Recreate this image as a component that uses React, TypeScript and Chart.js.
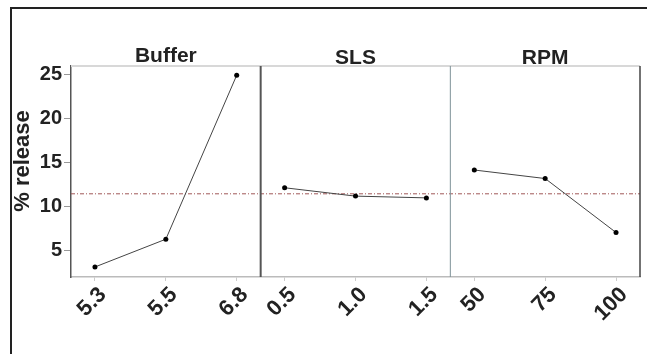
import React, { useEffect, useRef } from "react";
import { Chart, registerables } from "chart.js";

Chart.register(...registerables);

const panelTitles = ["Buffer", "SLS", "RPM"];
const bufferLabels = ["5.3", "5.5", "6.8"];
const slsLabels = ["0.5", "1.0", "1.5"];
const rpmLabels = ["50", "75", "100"];
const bufferValues = [3.14, 6.3, 24.95];
const slsValues = [12.15, 11.2, 11.0];
const rpmValues = [14.17, 13.2, 7.06];
const yTicks = [5, 10, 15, 20, 25];
const yTitle = "% release";

const allValues = [...bufferValues, ...slsValues, ...rpmValues];
const grandMean = allValues.reduce((a, b) => a + b, 0) / allValues.length;

const M = 0.338; // margin inside each panel, in point spacings
const W = 2 + 2 * M; // panel width
const panels = [bufferValues, slsValues, rpmValues];
const labelsAll = [...bufferLabels, ...slsLabels, ...rpmLabels];
const xPositions: number[] = [];
panels.forEach((_, p) => [0, 1, 2].forEach((k) => xPositions.push(p * W + M + k)));

const FONT = "'Liberation Sans', Arial, sans-serif";

export default function App() {
  const ref = useRef<HTMLCanvasElement | null>(null);
  useEffect(() => {
    if (!ref.current) return;
    const datasets: any[] = panels.map((vals, p) => ({
      data: vals.map((v, k) => ({ x: p * W + M + k, y: v })),
      borderColor: "#444",
      borderWidth: 1,
      pointRadius: 2.5,
      pointBackgroundColor: "#000",
      pointBorderColor: "#000",
      pointBorderWidth: 0,
      showLine: true,
    }));
    datasets.push({
      data: [
        { x: 0, y: grandMean },
        { x: 3 * W, y: grandMean },
      ],
      borderColor: "#a05858",
      borderWidth: 1,
      borderDash: [4, 2, 1, 2],
      pointRadius: 0,
      showLine: true,
    });

    const framePlugin = {
      id: "frame",
      afterDraw(chart: any) {
        const ctx = chart.ctx;
        const { top, bottom } = chart.chartArea;
        const xs = chart.scales.x;
        ctx.save();
        ctx.strokeStyle = "#d8d8d8";
        ctx.lineWidth = 2;
        ctx.beginPath();
        ctx.moveTo(chart.chartArea.left, top);
        ctx.lineTo(chart.chartArea.right, top);
        ctx.stroke();
        const divs = [
          { v: W, c: "#555", w: 2 },
          { v: 2 * W, c: "#7f9298", w: 1 },
          { v: 3 * W, c: "#444", w: 1.5 },
        ];
        divs.forEach((d) => {
          const px = xs.getPixelForValue(d.v);
          ctx.strokeStyle = d.c;
          ctx.lineWidth = d.w;
          ctx.beginPath();
          ctx.moveTo(px, top);
          ctx.lineTo(px, bottom);
          ctx.stroke();
        });
        ctx.fillStyle = "#222";
        ctx.font = `bold 21px ${FONT}`;
        ctx.textAlign = "center";
        ctx.textBaseline = "alphabetic";
        panelTitles.forEach((t, p) => {
          const px = xs.getPixelForValue(p * W + W / 2);
          ctx.fillText(t, px, top - 3 + (p > 0 ? 1 : -1));
        });
        ctx.translate(23, 161);
        ctx.rotate(-Math.PI / 2);
        ctx.font = `bold 22px ${FONT}`;
        ctx.textBaseline = "middle";
        ctx.fillText(yTitle, 0, 0);
        ctx.restore();
      },
    };

    const chart = new Chart(ref.current, {
      type: "scatter",
      data: { datasets },
      options: {
        animation: false,
        responsive: false,
        layout: { padding: { left: 0, right: 7, top: 66, bottom: 0 } },
        plugins: { legend: { display: false }, tooltip: { enabled: false } },
        scales: {
          x: {
            type: "linear",
            min: 0,
            max: 3 * W,
            afterFit(scale: any) {
              scale.height = 77;
              scale.paddingLeft = 0;
              scale.paddingRight = 0;
            },
            afterBuildTicks(scale: any) {
              scale.ticks = xPositions.map((v) => ({ value: v }));
            },
            ticks: {
              autoSkip: false,
              minRotation: 45,
              maxRotation: 45,
              padding: 1,
              labelOffset: 8,
              color: "#222",
              font: { family: FONT, size: 22, weight: "bold" },
              callback: (_v: any, i: number) => labelsAll[i],
            },
            grid: { drawOnChartArea: false, drawTicks: true, tickLength: 4, color: "#ccc" },
            border: { color: "#bbb", width: 1.5 },
          },
          y: {
            min: 2,
            max: 26,
            afterFit(scale: any) {
              scale.width = 71;
            },
            afterBuildTicks(scale: any) {
              scale.ticks = yTicks.map((v) => ({ value: v }));
            },
            ticks: {
              padding: 2,
              color: "#222",
              font: { family: FONT, size: 20, weight: "bold" },
            },
            grid: { drawOnChartArea: false, drawTicks: true, tickLength: 7, color: "#999" },
            border: { color: "#555", width: 1.5 },
          },
        },
      },
      plugins: [framePlugin],
    });
    return () => chart.destroy();
  }, []);

  return (
    <>
      <div
        style={{
          position: "fixed",
          left: 10,
          top: 7,
          width: 800,
          height: 500,
          border: "2px solid #222",
          boxSizing: "border-box",
        }}
      />
      <div style={{ position: "fixed", left: 0, top: 0, width: 647, height: 354 }}>
        <canvas ref={ref} width={647} height={354} style={{ display: "block" }} />
      </div>
    </>
  );
}
